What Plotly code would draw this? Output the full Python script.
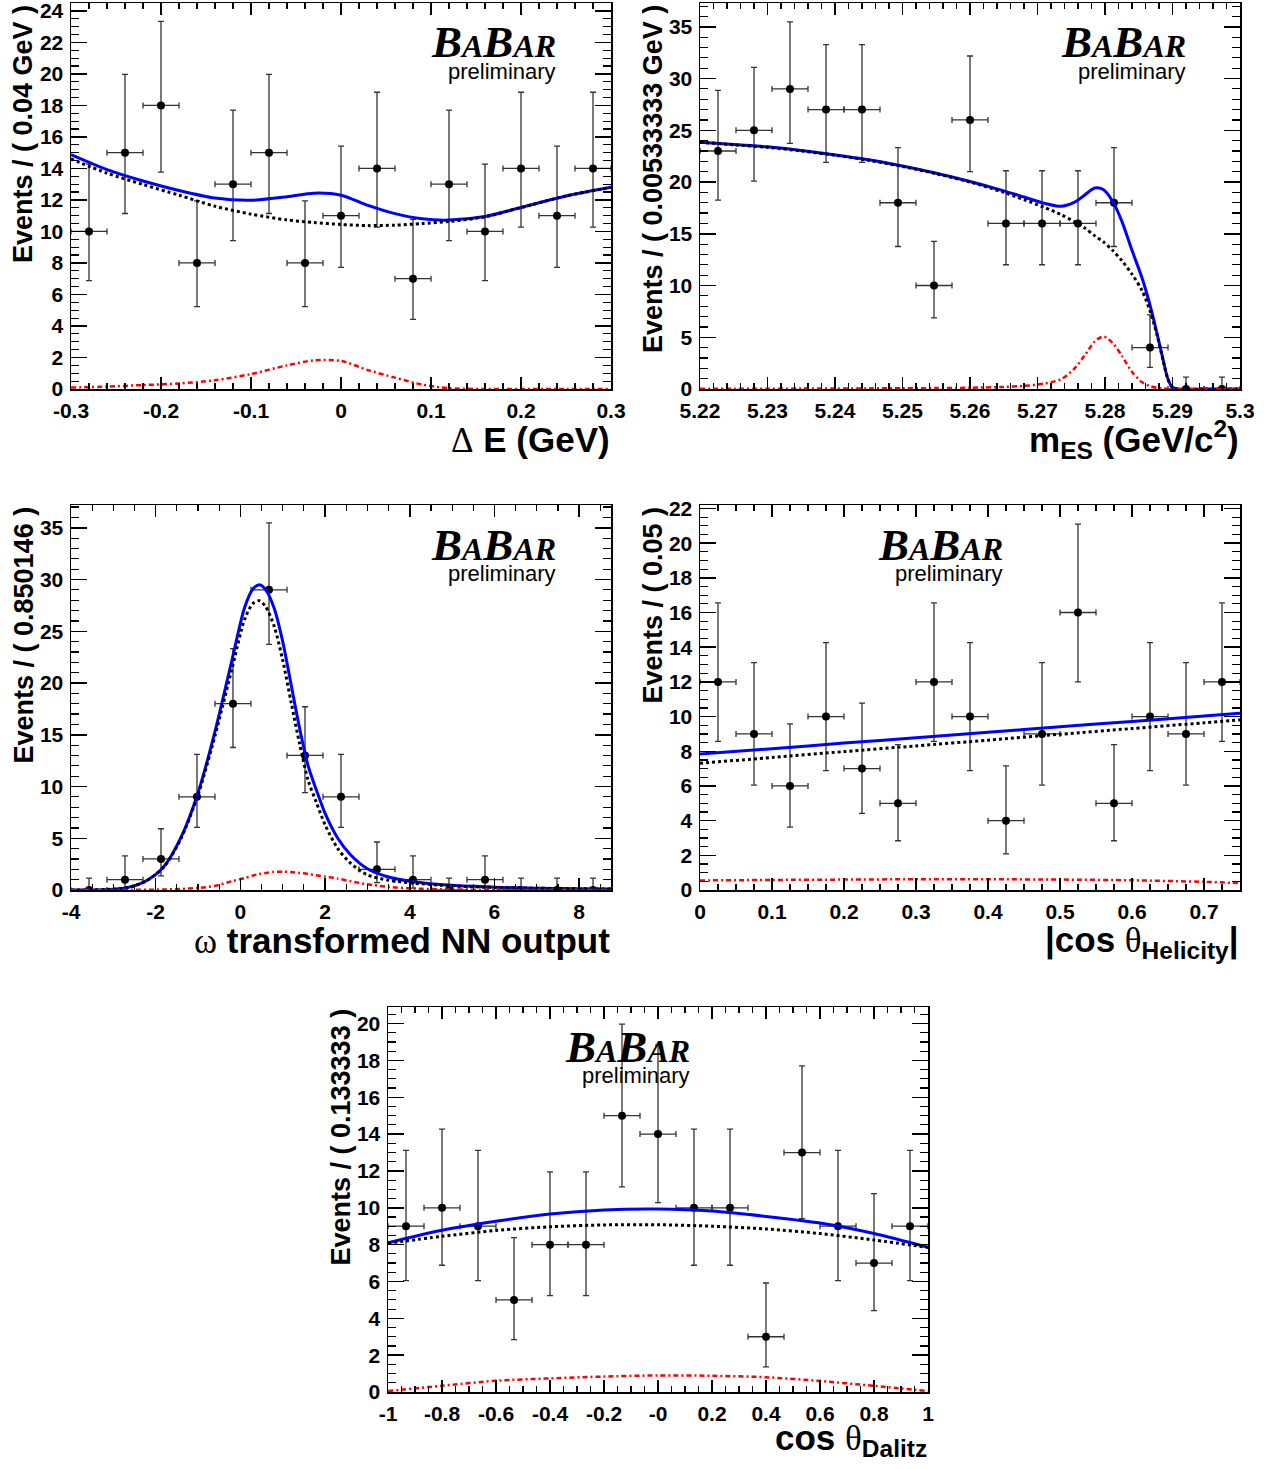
import plotly.graph_objects as go

W, H = 1270, 1469

# 68.3% Poisson interval bounds (lower, upper) for an observed count
POISSON_LO = {0: 0.0, 1: 0.173, 2: 0.708, 3: 1.367, 4: 2.086, 5: 2.840, 6: 3.620,
              7: 4.418, 8: 5.227, 9: 6.048, 10: 6.880, 11: 7.717, 12: 8.566,
              13: 9.416, 14: 10.280, 15: 11.139, 16: 12.006, 18: 13.768,
              23: 18.25, 25: 20.08, 26: 21.0, 27: 21.9, 29: 23.74}
POISSON_HI = {0: 1.148, 1: 3.300, 2: 4.638, 3: 5.918, 4: 7.163, 5: 8.382, 6: 9.584,
              7: 10.771, 8: 11.946, 9: 13.112, 10: 14.269, 11: 15.421, 12: 16.562,
              13: 17.704, 14: 18.835, 15: 19.966, 16: 21.092, 18: 23.329,
              23: 28.85, 25: 31.07, 26: 32.18, 27: 33.28, 29: 35.47}

# ---------------- Delta E ----------------
de_x = [-0.28, -0.24, -0.20, -0.16, -0.12, -0.08, -0.04, 0.00, 0.04, 0.08, 0.12, 0.16, 0.20, 0.24, 0.28]
de_n = [10, 15, 18, 8, 13, 15, 8, 11, 14, 7, 13, 10, 14, 11, 14]
de_halfbin = 0.02
de_cx = [-0.30, -0.26, -0.22, -0.18, -0.14, -0.10, -0.06, -0.03, 0.00, 0.03, 0.06, 0.09, 0.12, 0.16, 0.20, 0.25, 0.30]
de_total = [14.87, 13.92, 13.2, 12.6, 12.12, 11.98, 12.2, 12.43, 12.3, 11.65, 11.13, 10.8, 10.72, 10.95, 11.52, 12.25, 12.8]
de_bkg = [14.6, 13.7, 12.98, 12.3, 11.6, 11.1, 10.73, 10.57, 10.44, 10.37, 10.4, 10.5, 10.63, 10.93, 11.52, 12.25, 12.8]
de_sig = [0.09, 0.15, 0.25, 0.35, 0.55, 0.95, 1.5, 1.82, 1.78, 1.2, 0.72, 0.28, 0.05, 0.0, 0.0, 0.0, 0.0]
de_tickvals = [-0.3, -0.2, -0.1, 0.0, 0.1, 0.2, 0.3]
de_ticktext = ["-0.3", "-0.2", "-0.1", "0", "0.1", "0.2", "0.3"]
de_ytickvals = [0, 2, 4, 6, 8, 10, 12, 14, 16, 18, 20, 22, 24]

# ---------------- m_ES ----------------
mes_x = [5.22267, 5.22800, 5.23333, 5.23867, 5.24400, 5.24933, 5.25467, 5.26000,
         5.26533, 5.27067, 5.27600, 5.28133, 5.28667, 5.29200, 5.29733]
mes_n = [23, 25, 29, 27, 27, 18, 10, 26, 16, 16, 16, 18, 4, 0, 0]
mes_halfbin = 0.0026667
mes_cx = [5.220, 5.225, 5.230, 5.235, 5.240, 5.245, 5.250, 5.255, 5.260, 5.265, 5.268, 5.271,
          5.2735, 5.2755, 5.2770, 5.2785, 5.2798, 5.2812, 5.2825, 5.2840, 5.2855, 5.2868,
          5.2878, 5.2886, 5.2892, 5.2898, 5.2905, 5.295, 5.300]
mes_total = [23.85, 23.62, 23.4, 23.05, 22.62, 22.15, 21.55, 20.85, 20.05, 19.15, 18.55, 17.95,
             17.65, 18.05, 18.75, 19.42, 19.25, 18.05, 16.2, 13.4, 10.7, 7.8,
             5.1, 2.85, 1.22, 0.31, 0.03, 0.0, 0.0]
mes_bkg = [23.85, 23.6, 23.35, 23.0, 22.6, 22.1, 21.5, 20.8, 20.0, 19.0, 18.3, 17.55,
           16.85, 16.15, 15.55, 14.8, 14.2, 13.35, 12.4, 11.1, 9.5, 7.3,
           5.0, 2.8, 1.2, 0.3, 0.03, 0.0, 0.0]
mes_sig = [0.02, 0.03, 0.03, 0.04, 0.05, 0.06, 0.07, 0.09, 0.12, 0.2, 0.3, 0.52,
           0.95, 2.0, 3.25, 4.6, 5.07, 4.4, 3.2, 1.65, 0.65, 0.25,
           0.1, 0.05, 0.02, 0.01, 0.0, 0.0, 0.0]
mes_tickvals = [5.22, 5.23, 5.24, 5.25, 5.26, 5.27, 5.28, 5.29, 5.30]
mes_ticktext = ["5.22", "5.23", "5.24", "5.25", "5.26", "5.27", "5.28", "5.29", "5.3"]
mes_ytickvals = [0, 5, 10, 15, 20, 25, 30, 35]

# ---------------- omega NN output ----------------
nn_x = [-3.575, -2.725, -1.875, -1.025, -0.175, 0.676, 1.526, 2.376,
        3.226, 4.076, 4.926, 5.776, 6.627, 7.477, 8.327]
nn_n = [0, 1, 3, 9, 18, 29, 13, 9, 2, 1, 0, 1, 0, 0, 0]
nn_halfbin = 0.425
nn_cx = [-4.0, -3.0, -2.6, -2.2, -1.8, -1.4, -1.0, -0.6, -0.2, 0.1, 0.3, 0.45, 0.6, 0.8, 1.0,
         1.2, 1.4, 1.6, 1.8, 2.0, 2.3, 2.6, 3.0, 3.5, 4.0, 5.0, 6.0, 7.0, 8.0, 8.75]
nn_total = [0.0, 0.08, 0.3, 0.95, 2.3, 5.1, 9.4, 15.3, 22.2, 27.3, 29.1, 29.5, 29.0, 27.2, 24.0,
            19.8, 15.6, 12.0, 9.6, 7.4, 5.0, 3.4, 2.05, 1.25, 0.85, 0.45, 0.27, 0.17, 0.12, 0.1]
nn_bkg = [0.0, 0.08, 0.29, 0.93, 2.25, 5.0, 9.2, 14.9, 21.35, 26.15, 27.7, 27.95, 27.35, 25.45, 22.2,
          18.1, 14.1, 10.6, 8.4, 6.3, 4.0, 2.6, 1.45, 0.95, 0.69, 0.4, 0.25, 0.17, 0.12, 0.1]
nn_sig = [0.0, 0.0, 0.01, 0.02, 0.05, 0.1, 0.2, 0.4, 0.85, 1.15, 1.4, 1.55, 1.65, 1.75, 1.77,
          1.73, 1.65, 1.55, 1.42, 1.3, 1.1, 0.85, 0.55, 0.3, 0.16, 0.05, 0.02, 0.0, 0.0, 0.0]
nn_tickvals = [-4, -2, 0, 2, 4, 6, 8]
nn_ticktext = ["-4", "-2", "0", "2", "4", "6", "8"]
nn_ytickvals = [0, 5, 10, 15, 20, 25, 30, 35]

# ---------------- |cos theta_Helicity| ----------------
hel_x = [0.025, 0.075, 0.125, 0.175, 0.225, 0.275, 0.325, 0.375,
         0.425, 0.475, 0.525, 0.575, 0.625, 0.675, 0.725]
hel_n = [12, 9, 6, 10, 7, 5, 12, 10, 4, 9, 16, 5, 10, 9, 12]
hel_halfbin = 0.025
hel_cx = [0.0, 0.1, 0.2, 0.3, 0.4, 0.5, 0.6, 0.7, 0.75]
hel_total = [7.84, 8.15, 8.47, 8.78, 9.09, 9.41, 9.72, 10.03, 10.19]
hel_bkg = [7.31, 7.64, 7.98, 8.31, 8.64, 8.98, 9.31, 9.64, 9.81]
hel_sig = [0.55, 0.58, 0.6, 0.62, 0.62, 0.6, 0.56, 0.47, 0.4]
hel_tickvals = [0, 0.1, 0.2, 0.3, 0.4, 0.5, 0.6, 0.7]
hel_ticktext = ["0", "0.1", "0.2", "0.3", "0.4", "0.5", "0.6", "0.7"]
hel_ytickvals = [0, 2, 4, 6, 8, 10, 12, 14, 16, 18, 20, 22]

# ---------------- cos theta_Dalitz ----------------
dal_x = [-0.9333, -0.8, -0.6667, -0.5333, -0.4, -0.2667, -0.1333, 0.0,
         0.1333, 0.2667, 0.4, 0.5333, 0.6667, 0.8, 0.9333]
dal_n = [9, 10, 9, 5, 8, 8, 15, 14, 10, 10, 3, 13, 9, 7, 9]
dal_halfbin = 0.066667
dal_cx = [-1.0, -0.8, -0.6, -0.4, -0.2, 0.0, 0.2, 0.4, 0.6, 0.8, 1.0]
dal_total = [8.1, 8.78, 9.27, 9.66, 9.88, 9.93, 9.82, 9.53, 9.17, 8.6, 7.85]
dal_bkg = [8.07, 8.45, 8.77, 8.97, 9.07, 9.08, 9.0, 8.85, 8.6, 8.25, 7.85]
dal_sig = [0.05, 0.34, 0.61, 0.74, 0.84, 0.9, 0.88, 0.8, 0.6, 0.33, 0.05]
dal_tickvals = [-1, -0.8, -0.6, -0.4, -0.2, 0, 0.2, 0.4, 0.6, 0.8, 1]
dal_ticktext = ["-1", "-0.8", "-0.6", "-0.4", "-0.2", "-0", "0.2", "0.4", "0.6", "0.8", "1"]
dal_ytickvals = [0, 2, 4, 6, 8, 10, 12, 14, 16, 18, 20]

SANS = "Liberation Sans, Arial, Helvetica, sans-serif"
SERIF = "Liberation Serif, Times New Roman, serif"
SYM = "<span style='font-family:Liberation Serif;font-weight:normal'>{}</span>"

panels = [
    dict(x=de_x, n=de_n, hb=de_halfbin, cx=de_cx, tot=de_total, bkg=de_bkg, sig=de_sig,
         xr=[-0.3, 0.3], yr=[0, 24.5], xt=(de_tickvals, de_ticktext), yt=de_ytickvals,
         xminor=0.02, yminor=0.5, box=(71, 611, 3, 389),
         ytitle="Events / ( 0.04 GeV )", ytx=23,
         xtitle=SYM.format("Δ") + " E (GeV)", xty=440, logo=(558, 42, 71)),
    dict(x=mes_x, n=mes_n, hb=mes_halfbin, cx=mes_cx, tot=mes_total, bkg=mes_bkg, sig=mes_sig,
         xr=[5.22, 5.30], yr=[0, 37.3], xt=(mes_tickvals, mes_ticktext), yt=mes_ytickvals,
         xminor=0.002, yminor=1, box=(700, 1240, 3, 389),
         ytitle="Events / ( 0.00533333 GeV )", ytx=653,
         xtitle="m<sub>ES</sub> (GeV/c<sup>2</sup>)", xty=440, logo=(1188, 42, 71)),
    dict(x=nn_x, n=nn_n, hb=nn_halfbin, cx=nn_cx, tot=nn_total, bkg=nn_bkg, sig=nn_sig,
         xr=[-4.0, 8.752], yr=[0, 37.2], xt=(nn_tickvals, nn_ticktext), yt=nn_ytickvals,
         xminor=0.5, yminor=1, box=(71, 611, 505, 890),
         ytitle="Events / ( 0.850146 )", ytx=23,
         xtitle=SYM.format("ω") + " transformed NN output", xty=941, logo=(558, 545, 573)),
    dict(x=hel_x, n=hel_n, hb=hel_halfbin, cx=hel_cx, tot=hel_total, bkg=hel_bkg, sig=hel_sig,
         xr=[0, 0.75], yr=[0, 22.2], xt=(hel_tickvals, hel_ticktext), yt=hel_ytickvals,
         xminor=0.025, yminor=0.5, box=(700, 1240, 505, 890),
         ytitle="Events / ( 0.05 )", ytx=652,
         xtitle="|cos " + SYM.format("θ") + "<sub>Helicity</sub>|", xty=942, logo=(1005, 545, 573)),
    dict(x=dal_x, n=dal_n, hb=dal_halfbin, cx=dal_cx, tot=dal_total, bkg=dal_bkg, sig=dal_sig,
         xr=[-1, 1], yr=[0, 20.9], xt=(dal_tickvals, dal_ticktext), yt=dal_ytickvals,
         xminor=0.05, yminor=0.5, box=(388, 928, 1007, 1392),
         ytitle="Events / ( 0.133333 )", ytx=340,
         xtitle="cos " + SYM.format("θ") + "<sub>Dalitz</sub>", xty=1440, logo=(692, 1047, 1075)),
]

fig = go.Figure()
layout = dict(width=W, height=H, margin=dict(l=0, r=0, t=0, b=0, autoexpand=False),
              paper_bgcolor="white", plot_bgcolor="white", showlegend=False)
annotations = []


def px(x):
    return x / W


def py(y):
    return 1 - y / H


for i, p in enumerate(panels):
    k = "" if i == 0 else str(i + 1)
    xa, ya = "x" + k, "y" + k
    lo = [n - POISSON_LO[n] for n in p["n"]]
    hi = [POISSON_HI[n] - n for n in p["n"]]

    fig.add_trace(go.Scatter(
        x=p["x"], y=p["n"], mode="markers", xaxis=xa, yaxis=ya,
        marker=dict(color="black", size=8, symbol="circle"),
        error_x=dict(type="constant", value=p["hb"], color="#333333", thickness=1.3, width=3),
        error_y=dict(type="data", array=hi, arrayminus=lo, symmetric=False,
                     color="#333333", thickness=1.3, width=3),
        hoverinfo="skip"))
    fig.add_trace(go.Scatter(
        x=p["cx"], y=p["tot"], mode="lines", xaxis=xa, yaxis=ya,
        line=dict(color="#0000ff", width=3, shape="spline", smoothing=0.8), hoverinfo="skip"))
    fig.add_trace(go.Scatter(
        x=p["cx"], y=p["bkg"], mode="lines", xaxis=xa, yaxis=ya,
        line=dict(color="black", width=3, dash="dot", shape="spline", smoothing=0.8), hoverinfo="skip"))
    fig.add_trace(go.Scatter(
        x=p["cx"], y=p["sig"], mode="lines", xaxis=xa, yaxis=ya,
        line=dict(color="#ff0000", width=2.5, dash="5px,3px,2px,3px", shape="spline", smoothing=0.8),
        hoverinfo="skip"))

    x0, x1, y0, y1 = p["box"]
    tickfont = dict(family=SANS, size=21, color="black", weight="bold")
    layout["xaxis" + k] = dict(
        domain=[px(x0), px(x1)], range=p["xr"], anchor=ya, automargin=False,
        tickmode="array", tickvals=p["xt"][0], ticktext=p["xt"][1],
        ticks="inside", ticklen=12, tickwidth=1.5, tickcolor="black",
        minor=dict(ticks="inside", tickmode="linear", tick0=p["xr"][0], dtick=p["xminor"],
                   ticklen=6, tickwidth=1.2, tickcolor="black"),
        showline=True, linecolor="black", linewidth=1.5, mirror="allticks",
        showgrid=False, zeroline=False, tickfont=tickfont, ticklabelstandoff=2,
        ticklabeloverflow="allow", fixedrange=True)
    layout["yaxis" + k] = dict(
        domain=[py(y1), py(y0)], range=p["yr"], anchor=xa, automargin=False,
        tickmode="array", tickvals=p["yt"], ticktext=[str(v) for v in p["yt"]],
        ticks="inside", ticklen=16, tickwidth=1.5, tickcolor="black",
        minor=dict(ticks="inside", tickmode="linear", tick0=0, dtick=p["yminor"],
                   ticklen=8, tickwidth=1.2, tickcolor="black"),
        showline=True, linecolor="black", linewidth=1.5, mirror="allticks",
        showgrid=False, zeroline=False, tickfont=tickfont, ticklabelstandoff=2,
        ticklabeloverflow="allow", fixedrange=True)

    # y-axis title, top aligned as in ROOT
    annotations.append(dict(
        text=p["ytitle"], xref="paper", yref="paper", x=px(p["ytx"]), y=py(y0),
        xanchor="center", yanchor="top", textangle=-90, showarrow=False,
        font=dict(family=SANS, size=27, color="black", weight="bold")))
    # x-axis title, right aligned
    annotations.append(dict(
        text=p["xtitle"], xref="paper", yref="paper", x=px(x1 + 1), y=py(p["xty"]),
        xanchor="right", yanchor="middle", showarrow=False,
        font=dict(family=SANS, size=35, color="black", weight="bold")))
    # experiment logo
    lx, by, pry = p["logo"]
    annotations.append(dict(
        text="B<span style='font-size:32px'>A</span>B<span style='font-size:32px'>AR</span>",
        xref="paper", yref="paper", x=px(lx), y=py(by), xanchor="right", yanchor="middle",
        showarrow=False, font=dict(family=SERIF, size=45, color="black", weight="bold", style="italic")))
    annotations.append(dict(
        text="preliminary", xref="paper", yref="paper", x=px(lx), y=py(pry),
        xanchor="right", yanchor="middle", showarrow=False,
        font=dict(family=SANS, size=22, color="black")))

layout["annotations"] = annotations
fig.update_layout(**layout)
fig.write_html("out.html", config={"displayModeBar": False, "staticPlot": True})
